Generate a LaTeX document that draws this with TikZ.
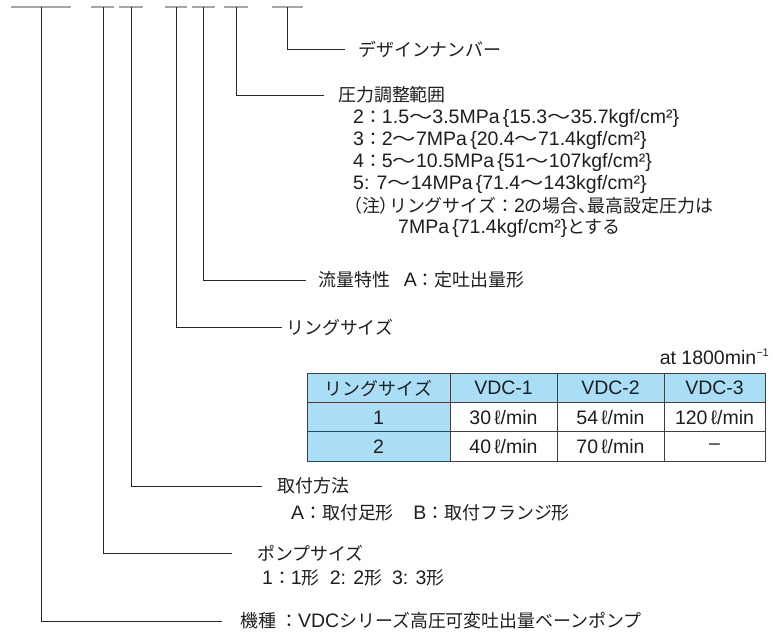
\documentclass[tikz,border=0pt]{standalone}
\usepackage{fontspec}
\setmainfont{Liberation Sans}
\newfontfamily\jp{Noto Sans CJK JP}[Scale=0.92]
\newfontfamily\jpp{Noto Sans CJK JP}[Scale=0.92,RawFeature=+palt]
\newcommand\wavedash{{\jp\scalebox{1.3}[1]{〜}}}
\definecolor{cellblue}{RGB}{170,222,246}
\definecolor{txt}{RGB}{30,30,30}
\begin{document}
\begin{tikzpicture}[x=1pt,y=-1pt,
  lbl/.style={anchor=west, inner sep=0pt, text=txt, font=\fontsize{19.5}{23}\selectfont},
  topdash/.style={gray!70, line width=1.3pt},
  conn/.style={black!85, line width=0.8pt},
  cell/.style={draw=black!75, line width=0.8pt, inner sep=0pt, text=txt,
    font=\fontsize{19.5}{23}\selectfont, minimum height=29.5pt},
  headcell/.style={cell, fill=cellblue},
  datacell/.style={cell, fill=white}]
\useasboundingbox (0,0) rectangle (773,633);

% top dashes
\draw[topdash] (11,7) -- (71,7);
\draw[topdash] (91,7) -- (114,7);
\draw[topdash] (119,7) -- (143,7);
\draw[topdash] (165,7) -- (187,7);
\draw[topdash] (192,7) -- (215,7);
\draw[topdash] (224,7) -- (248,7);
\draw[topdash] (272,7) -- (303,7);

\coordinate (t1) at (41.5,7);
\coordinate (t2) at (103,7);
\coordinate (t3) at (131,7);
\coordinate (t4) at (176,7);
\coordinate (t5) at (203,7);
\coordinate (t6) at (236.5,7);
\coordinate (t7) at (287,7);

\coordinate (e7) at (345,49);
\coordinate (e6) at (324,95);
\coordinate (e5) at (306,280);
\coordinate (e4) at (282,327);
\coordinate (e3) at (262,486);
\coordinate (e2) at (232,553);
\coordinate (e1) at (222,621);

% labels
\node[lbl] (dn) at (358,49) {\jp デザインナンバー};
\node[lbl] (pr) at (338,95) {\jp 圧力調整範囲};
\node[lbl] (p1) at (353,118) {2{\jp ：}1.5\wavedash 3.5MPa\,\{15.3\wavedash 35.7kgf/cm²\}};
\node[lbl] (p2) at (353,140) {3{\jp ：}2\wavedash 7MPa\,\{20.4\wavedash 71.4kgf/cm²\}};
\node[lbl] (p3) at (353,162) {4{\jp ：}5\wavedash 10.5MPa\,\{51\wavedash 107kgf/cm²\}};
\node[lbl] (p4) at (353,184) {5: 7\wavedash 14MPa\,\{71.4\wavedash 143kgf/cm²\}};
\node[lbl] (p5) at (353,206) {{\jpp （注）}{\jp リングサイズ：}2{\jp の場合}{\jpp 、}{\jp 最高設定圧力は}};
\node[lbl] (p6) at (398,228) {7MPa\,\{71.4kgf/cm²\}{\jp とする}};
\node[lbl] (fl) at (318,280) {{\jp 流量特性}\hspace{14pt}A{\jp ：定吐出量形}};
\node[lbl] (rs) at (286,327) {\jp リングサイズ};
\node[lbl] (mt) at (277,486) {\jp 取付方法};
\node[lbl] (mt2) at (291,513) {A{\jp ：取付足形}\quad B{\jp ：取付フランジ形}};
\node[lbl] (ps) at (257,553) {\jp ポンプサイズ};
\node[lbl] (ps2) at (262,578) {1{\jp ：}1{\jp 形}\hspace{10pt}2: 2{\jp 形}\hspace{10pt}3: 3{\jp 形}};
\node[lbl] (ks) at (240,621) {{\jp 機種\ ：}VDC{\jp シリーズ高圧可変吐出量ベーンポンプ}};

% connectors
\draw[conn] (t7) |- (e7);
\draw[conn] (t6) |- (e6);
\draw[conn] (t5) |- (e5);
\draw[conn] (t4) |- (e4);
\draw[conn] (t3) |- (e3);
\draw[conn] (t2) |- (e2);
\draw[conn] (t1) |- (e1);

% table
\node[lbl, anchor=east] (at) at (769,357) {at 1800min\raisebox{0.75ex}{\fontsize{11}{11}\selectfont −1}};
\node[headcell, minimum width=143pt] (h0) at (378.5,388) {\jp リングサイズ};
\node[headcell, minimum width=107pt] (h1) at (503.5,388) {VDC-1};
\node[headcell, minimum width=107pt] (h2) at (610.5,388) {VDC-2};
\node[headcell, minimum width=101pt] (h3) at (714.5,388) {VDC-3};
\node[headcell, minimum width=143pt] (r10) at (378.5,417.5) {1};
\node[datacell, minimum width=107pt] (r11) at (503.5,417.5) {30\,ℓ/min};
\node[datacell, minimum width=107pt] (r12) at (610.5,417.5) {54\,ℓ/min};
\node[datacell, minimum width=101pt] (r13) at (714.5,417.5) {120\,ℓ/min};
\node[headcell, minimum width=143pt] (r20) at (378.5,446.5) {2};
\node[datacell, minimum width=107pt] (r21) at (503.5,446.5) {40\,ℓ/min};
\node[datacell, minimum width=107pt] (r22) at (610.5,446.5) {70\,ℓ/min};
\node[datacell, minimum width=101pt] (r23) at (714.5,446.5) {–};
\end{tikzpicture}
\end{document}
